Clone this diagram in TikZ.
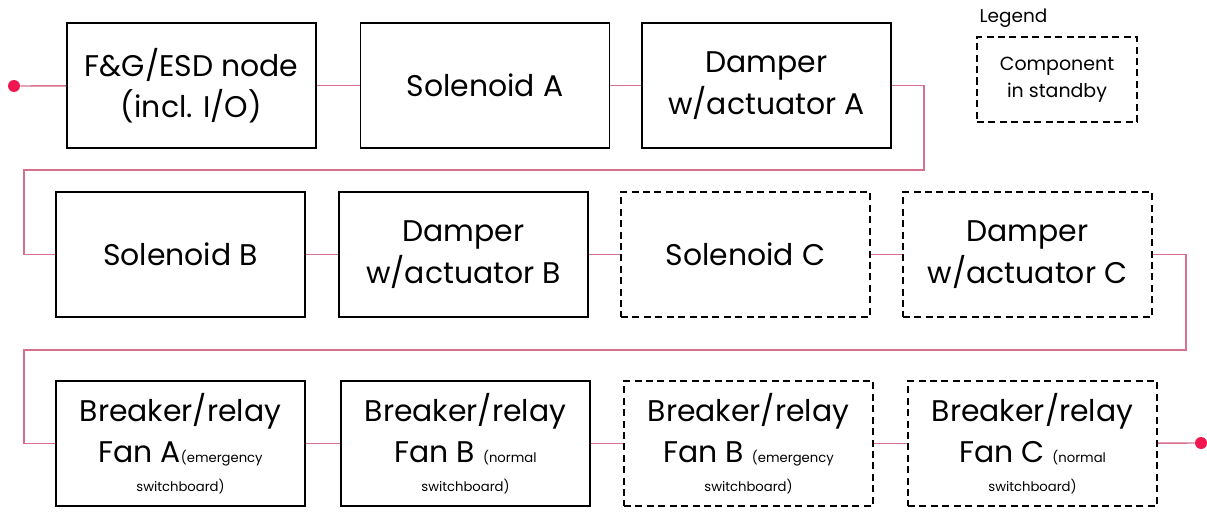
\documentclass[tikz,border=0pt]{standalone}
\usepackage{fontspec}
\setmainfont{Poppins}
\usepackage{tikz}
\usetikzlibrary{positioning,calc}
\definecolor{wirepink}{RGB}{214,112,140}
\definecolor{dotred}{RGB}{240,22,78}
\tikzstyle{block} = [rectangle, minimum width=4.98cm, minimum height=2.5cm, text centered, align=center, draw=black, line width=1.1pt, font=\fontsize{17}{23.5}\selectfont]
\tikzstyle{standby} = [block, dash pattern=on 4pt off 2.5pt]
\tikzstyle{link} = [wirepink, line width=0.8pt]
\tikzstyle{enddot} = [circle, fill=dotred, inner sep=0pt, minimum size=0.24cm]
\newcommand{\subnote}[1]{{\fontsize{7.5}{9}\selectfont #1}}

\begin{document}
\begin{tikzpicture}[node distance=5.65cm]
\useasboundingbox (0,0) rectangle (24.14,-10.22);

\node (fgesd) [block] at (3.83,-1.71) {F\&G/ESD node\\(incl. I/O)};
\node (solA) [block, right of=fgesd, node distance=5.87cm] {Solenoid A};
\node (damperA) [block, right of=solA, node distance=5.63cm] {Damper\\w/actuator A};

\node (solB) [block] at (3.61,-5.09) {Solenoid B};
\node (damperB) [block, right of=solB, node distance=5.66cm] {Damper\\w/actuator B};
\node (solC) [standby, right of=damperB, node distance=5.64cm] {Solenoid C};
\node (damperC) [standby, right of=solC, node distance=5.64cm] {Damper\\w/actuator C};

\node (brkA) [block] at (3.61,-8.87) {Breaker/relay\\Fan A\subnote{(emergency}\\[-7pt]\subnote{switchboard)}};
\node (brkB) [block, right of=brkA, node distance=5.70cm] {Breaker/relay\\Fan B \subnote{(normal}\\[-7pt]\subnote{switchboard)}};
\node (brkBe) [standby, right of=brkB, node distance=5.66cm] {Breaker/relay\\Fan B \subnote{(emergency}\\[-7pt]\subnote{switchboard)}};
\node (brkC) [standby, right of=brkBe, node distance=5.68cm] {Breaker/relay\\Fan C \subnote{(normal}\\[-7pt]\subnote{switchboard)}};

%legend
\node (legend) [standby, minimum width=3.2cm, minimum height=1.7cm, line width=0.9pt, font=\fontsize{10.8}{15.3}\selectfont] at (21.14,-1.59) {Component\\in standby};
\node (legendtitle) [font=\fontsize{10.5}{13}\selectfont] at (20.27,-0.36) {Legend};

%wire ends and turns
\node (start) [enddot] at (0.28,-1.72) {};
\node (stop) [enddot] at (24.02,-8.86) {};
\coordinate (t1) at (18.48,-3.40);
\coordinate (t2) at (0.48,-3.40);
\coordinate (t3) at (23.72,-7.00);
\coordinate (t4) at (0.48,-7.00);

%arrows
\draw [link] (start) -- (fgesd);
\draw [link] (fgesd) -- (solA);
\draw [link] (solA) -- (damperA);
\draw [link] (damperA.east) -| (t1) -- (t2) |- (solB.west);
\draw [link] (solB) -- (damperB);
\draw [link] (damperB) -- (solC);
\draw [link] (solC) -- (damperC);
\draw [link] (damperC.east) -| (t3) -- (t4) |- (brkA.west);
\draw [link] (brkA) -- (brkB);
\draw [link] (brkB) -- (brkBe);
\draw [link] (brkBe) -- (brkC);
\draw [link] (brkC) -- (stop);
\end{tikzpicture}
\end{document}
